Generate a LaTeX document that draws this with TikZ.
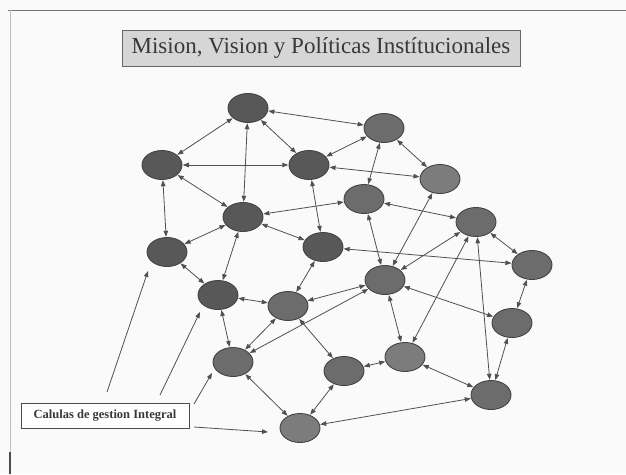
\documentclass[tikz,border=0pt]{standalone}
\usepackage{fontspec}
\setmainfont{Liberation Serif}
\usetikzlibrary{shapes.geometric,arrows.meta}

\definecolor{paper}{HTML}{FAFAFA}
\definecolor{edgegray}{HTML}{505050}
\definecolor{celldark}{HTML}{585858}
\definecolor{cellmid}{HTML}{6C6C6C}
\definecolor{celllight}{HTML}{7C7C7C}
\definecolor{cellrim}{HTML}{444444}
\definecolor{titlefill}{HTML}{D6D6D6}

\tikzset{
  cell/.style={ellipse, draw=cellrim, line width=0.9pt, fill=cellmid,
               minimum width=40pt, minimum height=29pt, inner sep=0pt},
  celld/.style={cell, fill=celldark},
  celll/.style={cell, fill=celllight},
  link/.style={draw=edgegray, line width=0.8pt,
               {Triangle[length=6pt,width=4.5pt]}-{Triangle[length=6pt,width=4.5pt]},
               shorten <=0.3pt, shorten >=0.3pt},
  pointer/.style={draw=edgegray, line width=0.8pt,
               -{Triangle[length=6pt,width=4.5pt]}},
  titlebox/.style={draw=black!60, line width=0.9pt, fill=titlefill,
               text=black!78, font=\fontsize{23}{26}\selectfont,
               minimum width=398pt, minimum height=36pt, inner sep=0pt},
  labelbox/.style={draw=black!70, line width=0.8pt, fill=white,
               font=\fontsize{12.5}{14}\selectfont\bfseries, text=black!78,
               minimum width=168pt, minimum height=25pt, inner sep=0pt}
}

\begin{document}
\begin{tikzpicture}[x=1pt,y=-1pt]
  % page and slide frame
  \fill[paper] (0,0) rectangle (626,474);
  \useasboundingbox (0,0) rectangle (626,474);
  \draw[black!55, line width=1pt] (8,10) -- (626,10);
  \draw[black!25, line width=1pt] (10,10) -- (10,474);
  \draw[black!70, line width=1.2pt] (10,452) -- (10,474);

  % heading
  \node[titlebox] (title) at (321,48) {Mision, Vision y Políticas Instítucionales};

  % cells
  \node[celld] (n1)  at (248,108) {};
  \node[cell]  (n2)  at (384,128) {};
  \node[celld] (n3)  at (162,165) {};
  \node[celld] (n4)  at (309,165) {};
  \node[celll] (n5)  at (440,179) {};
  \node[cell]  (n6)  at (364,199) {};
  \node[celld] (n7)  at (243,217) {};
  \node[cell]  (n8)  at (476,222) {};
  \node[celld] (n9)  at (167,252) {};
  \node[celld] (n10) at (323,247) {};
  \node[cell]  (n11) at (532,265) {};
  \node[cell]  (n12) at (385,280) {};
  \node[celld] (n13) at (218,295) {};
  \node[cell]  (n14) at (288,306) {};
  \node[cell]  (n15) at (512,323) {};
  \node[cell]  (n16) at (233,362) {};
  \node[celll] (n17) at (405,357) {};
  \node[cell]  (n18) at (344,371) {};
  \node[cell]  (n19) at (491,395) {};
  \node[celll] (n20) at (300,428) {};

  % links between cells
  \foreach \a/\b in {n1/n2, n1/n3, n1/n4, n1/n7, n3/n4, n3/n7, n3/n9,
                     n2/n4, n2/n5, n2/n6, n4/n5, n4/n10, n6/n7, n6/n8,
                     n6/n12, n5/n12, n7/n9, n7/n10, n7/n13, n9/n13,
                     n10/n11, n10/n14, n8/n11, n8/n12, n8/n17, n8/n19,
                     n12/n14, n12/n15, n12/n16, n12/n17, n13/n14, n13/n16,
                     n14/n16, n14/n18, n16/n20, n18/n20, n18/n17, n17/n19,
                     n15/n19, n11/n15, n20/n19}
    \draw[link] (\a) -- (\b);

  % legend and its pointers
  \node[labelbox] (legend) at (105,415.5) {Calulas de gestion Integral};
  \coordinate (p1s) at (107,392);
  \coordinate (p1e) at (148,271);
  \coordinate (p2s) at (160,395);
  \coordinate (p2e) at (200,312);
  \coordinate (p3s) at (194,404);
  \coordinate (p3e) at (212,373);
  \coordinate (p4s) at (194,427);
  \coordinate (p4e) at (268,432);
  \draw[pointer] (p1s) -- (p1e);
  \draw[pointer] (p2s) -- (p2e);
  \draw[pointer] (p3s) -- (p3e);
  \draw[pointer] (p4s) -- (p4e);
\end{tikzpicture}
\end{document}
